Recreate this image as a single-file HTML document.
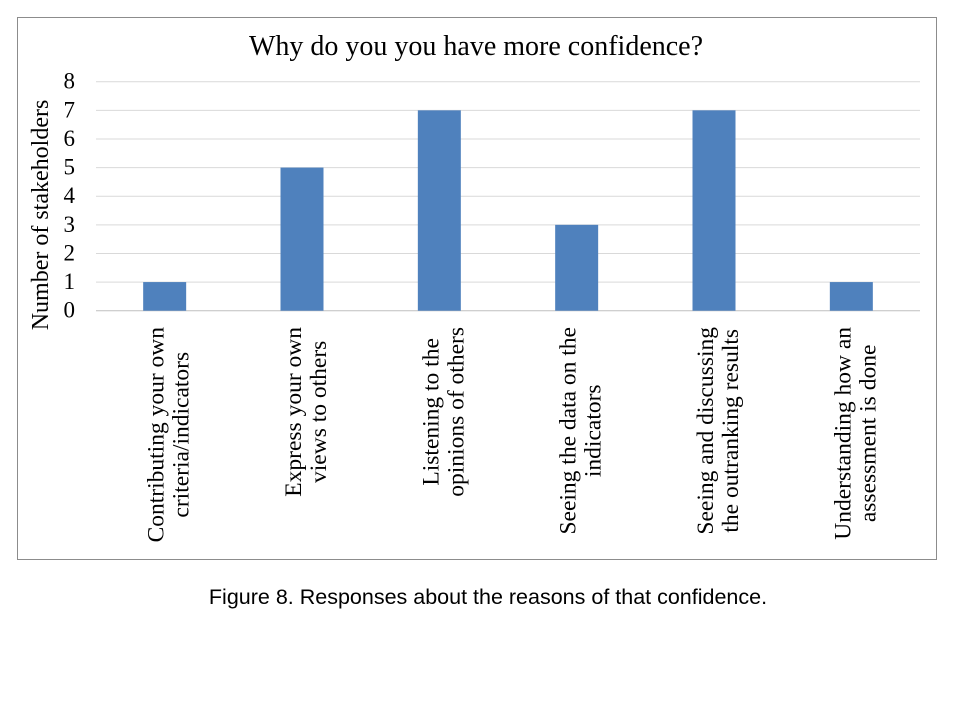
<!DOCTYPE html>
<html><head><meta charset="utf-8"><style>
body{margin:0;background:#fff;}
svg text{font-family:"Liberation Serif",serif;fill:#000;}
</style></head><body>
<svg width="960" height="720" viewBox="0 0 960 720" xmlns="http://www.w3.org/2000/svg">
<rect x="17.5" y="17.5" width="919" height="542" fill="#fff" stroke="#8c8c8c" stroke-width="1"/>
<text x="476" y="55" font-size="28" text-anchor="middle">Why do you you have more confidence?</text>
<text transform="translate(48,215) rotate(-90)" font-size="24" text-anchor="middle">Number of stakeholders</text>
<g id="grid"></g><g id="bars"></g><g id="labels"></g>
<text x="488" y="604" font-size="21.5" text-anchor="middle" style="font-family:'Liberation Sans',sans-serif">Figure 8. Responses about the reasons of that confidence.</text>
</svg>
<script>
const categories=[["Contributing your own","criteria/indicators"],["Express your own","views to others"],["Listening to the","opinions of others"],["Seeing the data on the","indicators"],["Seeing and discussing","the outranking results"],["Understanding how an","assessment is done"]];
const values=[1,5,7,3,7,1];
const yTicks=[0,1,2,3,4,5,6,7,8];
const NS="http://www.w3.org/2000/svg";
const x0=96,x1=920,yBase=310.7,yTop=81.7,yMax=8;
const y=v=>yBase-(yBase-yTop)*v/yMax;
const band=(x1-x0)/categories.length;
const cx=i=>x0+band*(i+0.5);
function mk(tag,attrs,parent){const e=document.createElementNS(NS,tag);for(const k in attrs)e.setAttribute(k,attrs[k]);document.getElementById(parent).appendChild(e);return e;}
yTicks.forEach(t=>{
 const l=mk('line',{x1:x0,x2:x1,y1:y(t),y2:y(t),stroke:t===0?'#bfbfbf':'#d9d9d9','stroke-width':1},'grid');
 
 
 const tx=mk('text',{x:75,y:y(t)+7,'font-size':23,'text-anchor':'end'},'grid');
 tx.textContent=t;
 
 
});
values.forEach((v,i)=>{
 const r=mk('rect',{x:cx(i)-21.5,y:y(v),width:43,height:yBase-y(v),fill:'#4f81bd'},'bars');
 
 
});
categories.forEach((lines,i)=>{
 const els=lines.map((s,j)=>{
  const t=mk('text',{'font-size':23.5,'text-anchor':'middle'},'labels');
  t.textContent=s;
  
  
  return t;});
 let maxL=0;els.forEach(e=>{maxL=Math.max(maxL,e.getComputedTextLength());});
 const c=327+maxL/2;
 els.forEach((e,j)=>{e.setAttribute('transform','translate('+(cx(i)-1+j*25)+','+c+') rotate(-90)');});
});
</script>
</body></html>
